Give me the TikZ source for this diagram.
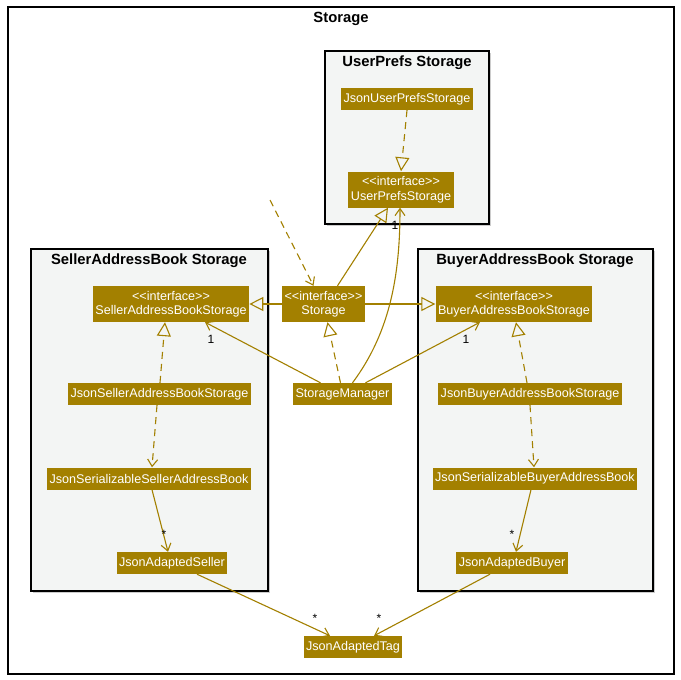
\documentclass[tikz,border=0pt]{standalone}
\usepackage{fontspec}
\setmainfont{Liberation Sans}[Ligatures=NoCommon]
\usetikzlibrary{arrows.meta,calc}
\definecolor{gold}{RGB}{163,128,0}
\definecolor{pkgfill}{RGB}{243,245,244}
\newcommand{\iftag}{{<}{<}interface{>}{>}}
\begin{document}
\begin{tikzpicture}[x=1pt,y=-1pt,
  cls/.style={fill=gold,text=white,font=\fontsize{12.6}{14.5}\selectfont,inner xsep=2.5pt,inner ysep=3pt,align=center,minimum height=22pt},
  iface/.style={cls,minimum height=36pt},
  pkg/.style={draw=black,line width=1.2pt,fill=pkgfill},
  title/.style={font=\fontsize{14.8}{16}\selectfont\bfseries},
  edge/.style={draw=gold,line width=1.1pt},
  dep/.style={edge,dash pattern=on 7pt off 5pt},
  vhead/.style={-{Straight Barb[length=7pt,width=10pt,line width=1.1pt]}},
  tri/.style={-{Triangle[open,length=14pt,width=14pt,line width=1.1pt]}},
  mult/.style={font=\fontsize{12}{14}\selectfont,inner sep=0pt}
]
\useasboundingbox (0,0) rectangle (681,680);
\fill[white] (0,0) rectangle (681,680);
% outer frame
\draw[black,line width=1.2pt] (8,7) rectangle (674,674);
\node[title] (ttl) at (341,19) {Storage};
% packages
\fill[gray!40] (327,53) rectangle (491,226);
\draw[pkg] (325,51) rectangle (489,224);
\node[title] (tup) at (407,63) {UserPrefs Storage};
\fill[gray!40] (33,251) rectangle (270,593);
\draw[pkg] (31,249) rectangle (268,591);
\node[title] (tsel) at (149,261) {SellerAddressBook Storage};
\fill[gray!40] (420,251) rectangle (655,593);
\draw[pkg] (418,249) rectangle (653,591);
\node[title] (tbuy) at (535,261) {BuyerAddressBook Storage};
% classes
\node[cls] (jup) at (407,99) {JsonUserPrefsStorage};
\node[iface] (up) at (401,189.5) {\iftag\\UserPrefsStorage};
\node[iface] (sabs) at (171,304) {\iftag\\SellerAddressBookStorage};
\node[iface] (st) at (323.5,304) {\iftag\\Storage};
\node[iface] (babs) at (514,304) {\iftag\\BuyerAddressBookStorage};
\node[cls] (jsabs) at (159.5,394) {JsonSellerAddressBookStorage};
\node[cls] (sm) at (342.5,394) {StorageManager};
\node[cls] (jbabs) at (530,394) {JsonBuyerAddressBookStorage};
\node[cls] (jssab) at (149,478.5) {JsonSerializableSellerAddressBook};
\node[cls] (jsbab) at (535,478.5) {JsonSerializableBuyerAddressBook};
\node[cls] (jas) at (172,563) {JsonAdaptedSeller};
\node[cls] (jab) at (512,563) {JsonAdaptedBuyer};
\node[cls] (jat) at (353,647) {JsonAdaptedTag};
\coordinate (free) at (270,200);
% edges
\draw[dep,tri] (jup.south) -- (up.north);
\draw[dep,vhead] (free) -- ([xshift=-10pt]st.north);
\draw[edge,tri] ([xshift=14pt]st.north) -- ([xshift=-13pt]up.south);
\draw[edge,vhead] ([xshift=10pt]sm.north) .. controls (392,330) and (400,270) .. ([xshift=-1pt]up.south);
\draw[edge,tri] (st.west) -- (sabs.east);
\draw[edge,tri] (st.east) -- (babs.west);
\draw[edge,vhead] ([xshift=-22pt]sm.north) -- ([xshift=34pt]sabs.south);
\draw[edge,vhead] ([xshift=23pt]sm.north) -- ([xshift=-34pt]babs.south);
\draw[dep,tri] ([xshift=-2pt]sm.north) -- ([xshift=4pt]st.south);
\draw[dep,tri] ([xshift=0.5pt]jsabs.north) -- ([xshift=-6pt]sabs.south);
\draw[dep,vhead] ([xshift=-2.5pt]jsabs.south) -- ([xshift=3pt]jssab.north);
\draw[edge,vhead] ([xshift=3pt]jssab.south) -- ([xshift=-4pt]jas.north);
\draw[edge,vhead] ([xshift=25pt]jas.south) -- ([xshift=-23pt]jat.north);
\draw[dep,tri] ([xshift=-3pt]jbabs.north) -- ([xshift=2pt]babs.south);
\draw[dep,vhead] (jbabs.south) -- ([xshift=-1pt]jsbab.north);
\draw[edge,vhead] ([xshift=-4pt]jsbab.south) -- ([xshift=4pt]jab.north);
\draw[edge,vhead] ([xshift=-22pt]jab.south) -- ([xshift=21pt]jat.north);
% multiplicities
\node[mult] (m1) at (395,225) {1};
\node[mult] (m2) at (211,339) {1};
\node[mult] (m3) at (466,339) {1};
\node[mult] (m4) at (164,534) {*};
\node[mult] (m5) at (512,534) {*};
\node[mult] (m6) at (315,618) {*};
\node[mult] (m7) at (379,618) {*};
\end{tikzpicture}
\end{document}
